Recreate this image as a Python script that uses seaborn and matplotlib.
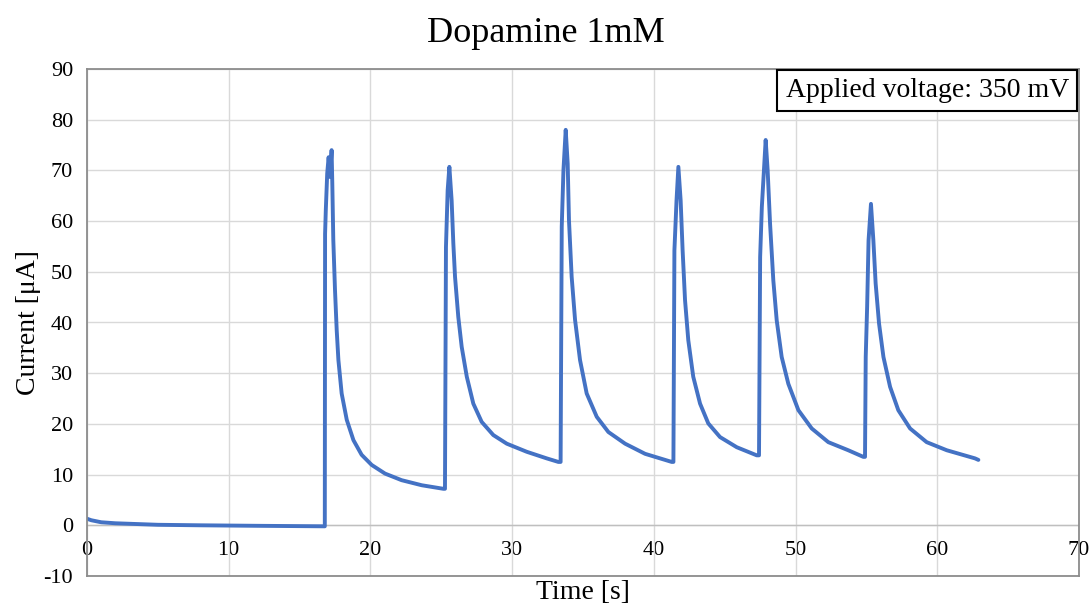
import matplotlib
matplotlib.use("Agg")
import matplotlib.pyplot as plt
import seaborn as sns
import pandas as pd

# ---- data ----
time_s = [
    0.0, 0.3, 1.0, 2.0, 3.0, 5.0, 8.0, 12.0, 16.78,
    16.8, 16.85, 16.95, 17.05, 17.15, 17.26, 17.31, 17.38, 17.5, 17.62, 17.74, 17.97, 18.33, 18.8,
    19.38, 20.09, 21.03, 22.2, 23.62, 25.15,
    25.26, 25.33, 25.45, 25.57, 25.73, 25.85, 25.97, 26.2, 26.44, 26.8, 27.26, 27.85, 28.67, 29.62,
    31.03, 32.44, 33.26,
    33.42, 33.5, 33.62, 33.78, 33.92, 34.01, 34.2, 34.44, 34.79, 35.26, 35.97, 36.79, 37.97, 39.38, 41.26,
    41.38, 41.45, 41.6, 41.73, 41.89, 42.03, 42.2, 42.43, 42.78, 43.26, 43.84, 44.67, 45.85, 47.26,
    47.42, 47.5, 47.62, 47.89, 48.03, 48.2, 48.43, 48.67, 49.02, 49.49, 50.2, 51.14, 52.31, 53.72, 54.78,
    54.9, 54.95, 55.05, 55.15, 55.32, 55.49, 55.65, 55.89, 56.2, 56.67, 57.25, 58.08, 59.25, 60.67, 62.66,
    62.9,
]
current_uA = [
    1.3, 1.0, 0.6, 0.4, 0.3, 0.1, 0.0, -0.1, -0.2,
    57.5, 62.1, 69.4, 72.6, 68.7, 74.0, 67.4, 56.3, 46.4, 38.5, 32.6, 26.0, 20.8, 16.8,
    13.9, 11.9, 10.2, 8.9, 7.9, 7.2,
    7.2, 54.9, 66.1, 70.7, 64.1, 55.6, 49.0, 41.1, 35.2, 29.3, 24.0, 20.4, 17.8, 16.1,
    14.5, 13.2, 12.5,
    12.5, 58.9, 70.0, 78.0, 71.3, 60.2, 49.0, 40.5, 32.6, 26.0, 21.4, 18.4, 16.1, 14.1, 12.5,
    12.5, 54.2, 64.1, 70.7, 64.1, 54.2, 44.4, 36.5, 29.3, 24.0, 20.1, 17.4, 15.4, 13.8,
    13.8, 52.9, 62.8, 76.0, 70.0, 59.5, 48.3, 40.4, 33.2, 27.9, 22.7, 19.1, 16.4, 14.8, 13.5,
    13.5, 33.2, 43.1, 56.2, 63.4, 56.2, 47.7, 39.8, 33.2, 27.3, 22.7, 19.1, 16.4, 14.8, 13.2,
    12.9,
]
x_ticks = [0, 10, 20, 30, 40, 50, 60, 70]
y_ticks = [-10, 0, 10, 20, 30, 40, 50, 60, 70, 80, 90]

title = "Dopamine 1mM"
x_label = "Time [s]"
y_label = "Current [μA]"
note = "Applied voltage: 350 mV"

df = pd.DataFrame({"t": time_s, "i": current_uA})

sns.set_style("white")
plt.rcParams["font.family"] = ["Liberation Serif", "DejaVu Serif"]
plt.rcParams["text.color"] = "black"
plt.rcParams["axes.labelcolor"] = "black"
plt.rcParams["xtick.color"] = "black"
plt.rcParams["ytick.color"] = "black"

fig = plt.figure(figsize=(10.92, 6.07), dpi=100)
ax = fig.add_axes([87 / 1092, 1 - 576 / 607, (1079 - 87) / 1092, (576 - 69) / 607])

sns.lineplot(data=df, x="t", y="i", ax=ax, color="#4472C4", linewidth=2.8,
             estimator=None, sort=False, solid_joinstyle="round")

ax.set_xlim(0, 70)
ax.set_ylim(-10, 90)
ax.set_xticks(x_ticks)
ax.set_yticks(y_ticks)
ax.grid(True, color="#d9d9d9", linewidth=1)
ax.axhline(0, color="#bfbfbf", linewidth=1, zorder=1)
ax.set_axisbelow(True)

for s in ax.spines.values():
    s.set_color("#8c8c8c")
    s.set_linewidth(1.3)

# x tick labels sit at the y=0 crossing
ax.tick_params(axis="x", length=0, labelbottom=False)
sec = ax.secondary_xaxis(0.1)
sec.set_xticks(x_ticks)
sec.set_xticklabels([str(v) for v in x_ticks])
sec.tick_params(axis="x", length=0, pad=11, labelsize=16, colors="black")
sec.spines["bottom"].set_visible(False)

ax.tick_params(axis="y", length=0, pad=10, labelsize=16)
ax.set_yticklabels([str(v) for v in y_ticks])

ax.set_xlabel(x_label, fontsize=20)
ax.xaxis.set_label_coords(0.5, -0.008)
ax.set_ylabel(y_label, fontsize=20)
ax.yaxis.set_label_coords(-0.046, 0.5)
fig.suptitle(title, fontsize=26, x=0.5, y=1 - 34 / 607, va="center")

ax.text(0.99, 0.982, note, transform=ax.transAxes, ha="right", va="top",
        fontsize=20,
        bbox=dict(boxstyle="square,pad=0.3", fc="white", ec="black", lw=1.5))

fig.savefig("out.png", dpi=100)
